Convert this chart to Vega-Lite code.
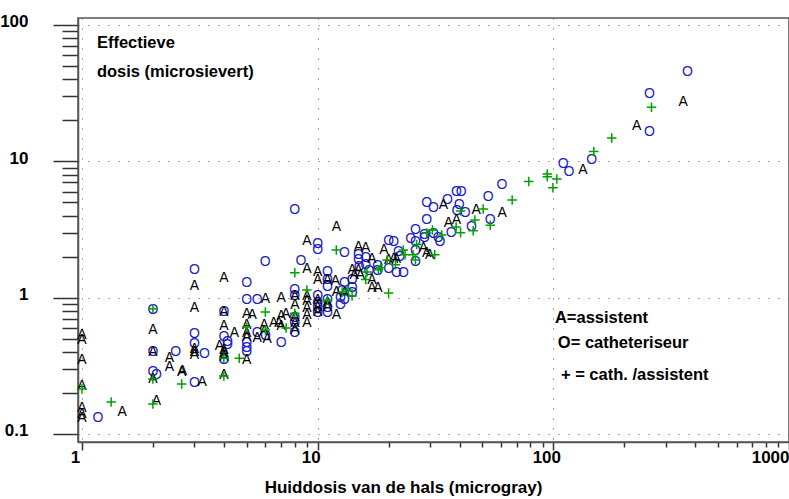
{
  "$schema": "https://vega.github.io/schema/vega-lite/v6.json",
  "width": 711,
  "height": 424,
  "autosize": "none",
  "padding": {"left": 78, "top": 18, "right": 0, "bottom": 57},
  "background": "white",
  "config": {"view": {"stroke": "#555555", "strokeWidth": 1.5}, "font": "Liberation Sans"},
  "datasets": {
    "points": [
      {"dose": 1.17, "eff": 0.131, "sym": "O"}, {"dose": 2, "eff": 0.81, "sym": "O"}, {"dose": 2, "eff": 0.40, "sym": "O"},
      {"dose": 2, "eff": 0.285, "sym": "O"}, {"dose": 2.07, "eff": 0.271, "sym": "O"}, {"dose": 2.5, "eff": 0.40, "sym": "O"},
      {"dose": 3, "eff": 1.60, "sym": "O"}, {"dose": 3, "eff": 0.54, "sym": "O"}, {"dose": 3, "eff": 0.46, "sym": "O"},
      {"dose": 3.31, "eff": 0.386, "sym": "O"}, {"dose": 3, "eff": 0.237, "sym": "O"}, {"dose": 4, "eff": 0.785, "sym": "O"},
      {"dose": 4, "eff": 0.514, "sym": "O"}, {"dose": 4.14, "eff": 0.47, "sym": "O"}, {"dose": 4.14, "eff": 0.45, "sym": "O"},
      {"dose": 4, "eff": 0.35, "sym": "O"}, {"dose": 5, "eff": 1.28, "sym": "O"}, {"dose": 5, "eff": 0.96, "sym": "O"},
      {"dose": 5.54, "eff": 0.96, "sym": "O"}, {"dose": 5, "eff": 0.465, "sym": "O"}, {"dose": 5, "eff": 0.427, "sym": "O"},
      {"dose": 5, "eff": 0.40, "sym": "O"}, {"dose": 5.99, "eff": 1.83, "sym": "O"}, {"dose": 5.54, "eff": 0.55, "sym": "O"},
      {"dose": 6, "eff": 0.52, "sym": "O"}, {"dose": 7, "eff": 0.465, "sym": "O"}, {"dose": 8, "eff": 4.4, "sym": "O"},
      {"dose": 8.5, "eff": 1.85, "sym": "O"}, {"dose": 8, "eff": 1.14, "sym": "O"}, {"dose": 8, "eff": 1.02, "sym": "O"},
      {"dose": 8, "eff": 0.71, "sym": "O"}, {"dose": 8, "eff": 0.65, "sym": "O"}, {"dose": 8, "eff": 0.55, "sym": "O"},
      {"dose": 10, "eff": 2.48, "sym": "O"}, {"dose": 10, "eff": 2.22, "sym": "O"}, {"dose": 10, "eff": 1.02, "sym": "O"},
      {"dose": 10, "eff": 0.91, "sym": "O"}, {"dose": 10, "eff": 0.84, "sym": "O"}, {"dose": 10, "eff": 0.77, "sym": "O"},
      {"dose": 11, "eff": 1.54, "sym": "O"}, {"dose": 11, "eff": 1.35, "sym": "O"}, {"dose": 11, "eff": 1.20, "sym": "O"},
      {"dose": 11, "eff": 0.96, "sym": "O"}, {"dose": 11, "eff": 0.84, "sym": "O"}, {"dose": 11, "eff": 0.77, "sym": "O"},
      {"dose": 12.5, "eff": 1.0, "sym": "O"}, {"dose": 12.5, "eff": 0.88, "sym": "O"}, {"dose": 13, "eff": 0.96, "sym": "O"},
      {"dose": 12.7, "eff": 1.11, "sym": "O"}, {"dose": 13, "eff": 2.13, "sym": "O"}, {"dose": 13, "eff": 1.28, "sym": "O"},
      {"dose": 14, "eff": 1.35, "sym": "O"}, {"dose": 14, "eff": 1.18, "sym": "O"}, {"dose": 14, "eff": 1.08, "sym": "O"},
      {"dose": 14.9, "eff": 2.06, "sym": "O"}, {"dose": 14.9, "eff": 1.89, "sym": "O"}, {"dose": 15, "eff": 1.68, "sym": "O"},
      {"dose": 16, "eff": 1.96, "sym": "O"}, {"dose": 16, "eff": 1.74, "sym": "O"}, {"dose": 16.5, "eff": 1.56, "sym": "O"},
      {"dose": 18, "eff": 1.70, "sym": "O"}, {"dose": 18, "eff": 1.56, "sym": "O"}, {"dose": 20, "eff": 2.6, "sym": "O"},
      {"dose": 21, "eff": 2.56, "sym": "O"}, {"dose": 20, "eff": 1.62, "sym": "O"}, {"dose": 21.6, "eff": 1.52, "sym": "O"},
      {"dose": 23.1, "eff": 1.52, "sym": "O"}, {"dose": 22, "eff": 2.17, "sym": "O"}, {"dose": 22.3, "eff": 1.98, "sym": "O"},
      {"dose": 24.8, "eff": 2.70, "sym": "O"}, {"dose": 26, "eff": 2.56, "sym": "O"}, {"dose": 26, "eff": 2.2, "sym": "O"},
      {"dose": 26, "eff": 1.83, "sym": "O"}, {"dose": 26, "eff": 3.14, "sym": "O"}, {"dose": 28.4, "eff": 2.88, "sym": "O"},
      {"dose": 28.4, "eff": 2.74, "sym": "O"}, {"dose": 31, "eff": 2.95, "sym": "O"}, {"dose": 32.5, "eff": 2.74, "sym": "O"},
      {"dose": 33, "eff": 2.56, "sym": "O"}, {"dose": 29, "eff": 4.94, "sym": "O"}, {"dose": 31, "eff": 4.55, "sym": "O"},
      {"dose": 29, "eff": 3.71, "sym": "O"}, {"dose": 35.5, "eff": 5.2, "sym": "O"}, {"dose": 38.8, "eff": 5.96, "sym": "O"},
      {"dose": 40.7, "eff": 5.96, "sym": "O"}, {"dose": 39.9, "eff": 4.78, "sym": "O"}, {"dose": 39, "eff": 4.32, "sym": "O"},
      {"dose": 42.3, "eff": 4.18, "sym": "O"}, {"dose": 36.9, "eff": 3.0, "sym": "O"}, {"dose": 44.9, "eff": 3.3, "sym": "O"},
      {"dose": 52.9, "eff": 5.47, "sym": "O"}, {"dose": 54, "eff": 3.69, "sym": "O"}, {"dose": 60.6, "eff": 6.7, "sym": "O"},
      {"dose": 110, "eff": 9.5, "sym": "O"}, {"dose": 116.5, "eff": 8.35, "sym": "O"}, {"dose": 145.6, "eff": 10.2, "sym": "O"},
      {"dose": 256, "eff": 16.4, "sym": "O"}, {"dose": 256, "eff": 31.2, "sym": "O"}, {"dose": 370.5, "eff": 45.2, "sym": "O"},

      {"dose": 1, "eff": 0.53, "sym": "A"}, {"dose": 1, "eff": 0.49, "sym": "A"}, {"dose": 1, "eff": 0.35, "sym": "A"},
      {"dose": 1, "eff": 0.225, "sym": "A"}, {"dose": 1, "eff": 0.155, "sym": "A"}, {"dose": 1, "eff": 0.14, "sym": "A"},
      {"dose": 1, "eff": 0.131, "sym": "A"}, {"dose": 1.48, "eff": 0.146, "sym": "A"},
      {"dose": 2, "eff": 0.58, "sym": "A"}, {"dose": 2, "eff": 0.40, "sym": "A"}, {"dose": 2, "eff": 0.255, "sym": "A"},
      {"dose": 2.07, "eff": 0.175, "sym": "A"}, {"dose": 2.35, "eff": 0.36, "sym": "A"}, {"dose": 2.35, "eff": 0.31, "sym": "A"},
      {"dose": 2.65, "eff": 0.285, "sym": "A"}, {"dose": 2.67, "eff": 0.29, "sym": "A"},
      {"dose": 3, "eff": 1.22, "sym": "A"}, {"dose": 3, "eff": 0.84, "sym": "A"}, {"dose": 3, "eff": 0.42, "sym": "A"},
      {"dose": 3, "eff": 0.40, "sym": "A"}, {"dose": 3, "eff": 0.38, "sym": "A"}, {"dose": 3.24, "eff": 0.24, "sym": "A"},
      {"dose": 4, "eff": 1.39, "sym": "A"}, {"dose": 4, "eff": 0.785, "sym": "A"}, {"dose": 4, "eff": 0.62, "sym": "A"},
      {"dose": 4.43, "eff": 0.55, "sym": "A"}, {"dose": 3.83, "eff": 0.44, "sym": "A"}, {"dose": 4, "eff": 0.413, "sym": "A"},
      {"dose": 4, "eff": 0.39, "sym": "A"}, {"dose": 4, "eff": 0.367, "sym": "A"}, {"dose": 4, "eff": 0.271, "sym": "A"},
      {"dose": 6, "eff": 0.97, "sym": "A"}, {"dose": 5, "eff": 0.76, "sym": "A"}, {"dose": 5.28, "eff": 0.746, "sym": "A"},
      {"dose": 5, "eff": 0.63, "sym": "A"}, {"dose": 5, "eff": 0.55, "sym": "A"}, {"dose": 5, "eff": 0.514, "sym": "A"},
      {"dose": 5, "eff": 0.35, "sym": "A"}, {"dose": 5.54, "eff": 0.51, "sym": "A"}, {"dose": 5.93, "eff": 0.63, "sym": "A"},
      {"dose": 5.93, "eff": 0.57, "sym": "A"}, {"dose": 6.1, "eff": 0.50, "sym": "A"}, {"dose": 6.5, "eff": 0.65, "sym": "A"},
      {"dose": 6.85, "eff": 0.65, "sym": "A"}, {"dose": 7, "eff": 0.62, "sym": "A"}, {"dose": 7, "eff": 0.99, "sym": "A"},
      {"dose": 7.33, "eff": 0.76, "sym": "A"}, {"dose": 7, "eff": 0.73, "sym": "A"},
      {"dose": 8, "eff": 1.02, "sym": "A"}, {"dose": 8, "eff": 0.88, "sym": "A"}, {"dose": 8, "eff": 0.72, "sym": "A"},
      {"dose": 8, "eff": 0.65, "sym": "A"}, {"dose": 8, "eff": 0.58, "sym": "A"},
      {"dose": 9, "eff": 2.6, "sym": "A"}, {"dose": 9, "eff": 1.63, "sym": "A"}, {"dose": 9, "eff": 1.02, "sym": "A"},
      {"dose": 9, "eff": 0.95, "sym": "A"}, {"dose": 9, "eff": 0.84, "sym": "A"}, {"dose": 9, "eff": 0.75, "sym": "A"},
      {"dose": 9, "eff": 0.65, "sym": "A"},
      {"dose": 10, "eff": 1.54, "sym": "A"}, {"dose": 10, "eff": 1.35, "sym": "A"}, {"dose": 10, "eff": 0.96, "sym": "A"},
      {"dose": 10, "eff": 0.86, "sym": "A"}, {"dose": 10, "eff": 0.79, "sym": "A"},
      {"dose": 11, "eff": 1.35, "sym": "A"}, {"dose": 11, "eff": 0.91, "sym": "A"}, {"dose": 11, "eff": 0.85, "sym": "A"},
      {"dose": 12, "eff": 3.3, "sym": "A"}, {"dose": 11.9, "eff": 1.32, "sym": "A"}, {"dose": 12, "eff": 1.10, "sym": "A"},
      {"dose": 12, "eff": 0.746, "sym": "A"}, {"dose": 13, "eff": 1.09, "sym": "A"},
      {"dose": 14, "eff": 1.60, "sym": "A"}, {"dose": 14.3, "eff": 1.47, "sym": "A"}, {"dose": 14.9, "eff": 1.60, "sym": "A"},
      {"dose": 15.2, "eff": 1.47, "sym": "A"}, {"dose": 14.9, "eff": 2.35, "sym": "A"}, {"dose": 16, "eff": 2.30, "sym": "A"},
      {"dose": 17, "eff": 1.93, "sym": "A"}, {"dose": 17, "eff": 1.35, "sym": "A"}, {"dose": 17, "eff": 1.18, "sym": "A"},
      {"dose": 18, "eff": 1.18, "sym": "A"}, {"dose": 19.1, "eff": 2.25, "sym": "A"},
      {"dose": 20, "eff": 1.89, "sym": "A"}, {"dose": 21, "eff": 1.91, "sym": "A"}, {"dose": 21.6, "eff": 1.91, "sym": "A"},
      {"dose": 28.1, "eff": 2.3, "sym": "A"}, {"dose": 29, "eff": 2.13, "sym": "A"}, {"dose": 29.9, "eff": 2.06, "sym": "A"},
      {"dose": 34.2, "eff": 4.78, "sym": "A"}, {"dose": 35.9, "eff": 3.53, "sym": "A"}, {"dose": 38.8, "eff": 3.71, "sym": "A"},
      {"dose": 47.1, "eff": 4.4, "sym": "A"}, {"dose": 60.6, "eff": 4.2, "sym": "A"}, {"dose": 133.4, "eff": 8.64, "sym": "A"},
      {"dose": 225.5, "eff": 18.2, "sym": "A"}, {"dose": 356, "eff": 27.2, "sym": "A"},

      {"dose": 1, "eff": 0.214, "sym": "+"}, {"dose": 1.33, "eff": 0.172, "sym": "+"}, {"dose": 2, "eff": 0.83, "sym": "+"},
      {"dose": 2, "eff": 0.253, "sym": "+"}, {"dose": 2, "eff": 0.166, "sym": "+"}, {"dose": 2.65, "eff": 0.233, "sym": "+"},
      {"dose": 4, "eff": 0.36, "sym": "+"}, {"dose": 4, "eff": 0.266, "sym": "+"}, {"dose": 4.65, "eff": 0.36, "sym": "+"},
      {"dose": 5, "eff": 0.61, "sym": "+"}, {"dose": 6, "eff": 0.785, "sym": "+"}, {"dose": 6, "eff": 0.58, "sym": "+"},
      {"dose": 7.35, "eff": 0.60, "sym": "+"}, {"dose": 8, "eff": 1.52, "sym": "+"}, {"dose": 8, "eff": 0.77, "sym": "+"},
      {"dose": 9, "eff": 1.14, "sym": "+"}, {"dose": 11, "eff": 0.96, "sym": "+"}, {"dose": 12, "eff": 2.24, "sym": "+"},
      {"dose": 12.7, "eff": 1.10, "sym": "+"}, {"dose": 13.5, "eff": 1.14, "sym": "+"}, {"dose": 14, "eff": 1.03, "sym": "+"},
      {"dose": 16.2, "eff": 1.54, "sym": "+"}, {"dose": 16, "eff": 1.36, "sym": "+"}, {"dose": 18.1, "eff": 1.60, "sym": "+"},
      {"dose": 18.5, "eff": 1.66, "sym": "+"}, {"dose": 20, "eff": 1.08, "sym": "+"}, {"dose": 19.7, "eff": 1.89, "sym": "+"},
      {"dose": 21.4, "eff": 1.74, "sym": "+"}, {"dose": 23.1, "eff": 2.24, "sym": "+"}, {"dose": 23.5, "eff": 2.06, "sym": "+"},
      {"dose": 26.3, "eff": 2.45, "sym": "+"}, {"dose": 25.4, "eff": 2.06, "sym": "+"}, {"dose": 26, "eff": 1.89, "sym": "+"},
      {"dose": 29, "eff": 2.98, "sym": "+"}, {"dose": 30.7, "eff": 3.14, "sym": "+"}, {"dose": 31.4, "eff": 2.06, "sym": "+"},
      {"dose": 33.6, "eff": 2.88, "sym": "+"}, {"dose": 38.7, "eff": 3.3, "sym": "+"}, {"dose": 40.4, "eff": 2.99, "sym": "+"},
      {"dose": 40.4, "eff": 4.33, "sym": "+"}, {"dose": 46.5, "eff": 3.71, "sym": "+"}, {"dose": 45.7, "eff": 3.1, "sym": "+"},
      {"dose": 50.4, "eff": 4.47, "sym": "+"}, {"dose": 54, "eff": 3.4, "sym": "+"}, {"dose": 66.9, "eff": 5.2, "sym": "+"},
      {"dose": 78.7, "eff": 7.1, "sym": "+"}, {"dose": 94.3, "eff": 8.07, "sym": "+"}, {"dose": 94.3, "eff": 7.7, "sym": "+"},
      {"dose": 103.5, "eff": 7.42, "sym": "+"}, {"dose": 99.6, "eff": 6.4, "sym": "+"}, {"dose": 148.5, "eff": 11.8, "sym": "+"},
      {"dose": 177, "eff": 14.8, "sym": "+"}, {"dose": 261, "eff": 24.95, "sym": "+"}
    ]
  },
  "layer": [
    {
      "data": {"name": "points"},
      "transform": [{"filter": "datum.sym != '+'"}],
      "mark": {"type": "text", "font": "Liberation Sans", "fontSize": 14, "baseline": "middle", "align": "center"},
      "encoding": {
        "x": {
          "field": "dose", "type": "quantitative",
          "scale": {"type": "log", "domain": [0.962, 1000], "nice": false},
          "axis": {
            "values": [1,2,3,4,5,6,7,8,9,10,20,30,40,50,60,70,80,90,100,200,300,400,500,600,700,800,900,1000],
            "labelExpr": "datum.value == 1 ? '1' : datum.value == 10 ? '10' : datum.value == 100 ? '100' : datum.value == 1000 ? '1000' : ''",
            "tickSize": {"condition": {"test": "datum.value == 1 || datum.value == 10 || datum.value == 100 || datum.value == 1000", "value": 8}, "value": 5},
            "labelAlign": {"condition": {"test": "datum.value == 1000", "value": "right"}, "value": "center"},
            "labelOffset": {"condition": {"test": "datum.value == 1000", "value": 0}, "value": -7},
            "labelPadding": -1,
            "labelBaseline": "top",
            "labelFont": "Liberation Sans", "labelFontSize": 17, "labelFontWeight": "bold", "labelColor": "#000000",
            "labelOverlap": false, "labelFlush": false, "labelBound": false,
            "tickColor": "#333333", "tickWidth": 1.5,
            "domainColor": "#555555", "domainWidth": 1.5,
            "grid": true, "gridColor": "#555555", "gridDash": [1, 9], "gridWidth": 1,
            "gridOpacity": {"condition": {"test": "datum.value == 1 || datum.value == 10 || datum.value == 100 || datum.value == 1000", "value": 1}, "value": 0},
            "title": "Huiddosis van de hals (microgray)",
            "titleFont": "Liberation Sans", "titleFontSize": 17, "titleFontWeight": "bold", "titleColor": "#000000",
            "titleX": 325, "titleY": 45, "titleAlign": "center", "titleBaseline": "middle", "titleAngle": 0
          }
        },
        "y": {
          "field": "eff", "type": "quantitative",
          "scale": {"type": "log", "domain": [0.08736, 112.5], "nice": false},
          "axis": {
            "values": [0.1,0.2,0.3,0.4,0.5,0.6,0.7,0.8,0.9,1,2,3,4,5,6,7,8,9,10,20,30,40,50,60,70,80,90,100],
            "labelExpr": "datum.value == 0.1 ? '0.1' : datum.value == 1 ? '1' : datum.value == 10 ? '10' : datum.value == 100 ? '100' : ''",
            "tickSize": {"condition": {"test": "datum.value == 0.1 || datum.value == 1 || datum.value == 10 || datum.value == 100", "value": 25}, "value": 16},
            "labelPadding": 25,
            "labelOffset": -3,
            "labelFont": "Liberation Sans", "labelFontSize": 17, "labelFontWeight": "bold", "labelColor": "#000000",
            "labelOverlap": false, "labelFlush": false, "labelBound": false,
            "tickColor": "#333333", "tickWidth": 1.5,
            "domainColor": "#555555", "domainWidth": 1.5,
            "grid": true, "gridColor": "#555555", "gridDash": [1, 9], "gridWidth": 1,
            "gridOpacity": {"condition": {"test": "datum.value == 0.1 || datum.value == 1 || datum.value == 10 || datum.value == 100", "value": 1}, "value": 0},
            "title": null
          }
        },
        "text": {"field": "sym", "type": "nominal"},
        "color": {
          "field": "sym", "type": "nominal",
          "scale": {"domain": ["A", "O", "+"], "range": ["#000000", "#1c1cc4", "#00a000"]},
          "legend": null
        }
      }
    },
    {
      "data": {"name": "points"},
      "transform": [{"filter": "datum.sym == '+'"}],
      "mark": {"type": "point", "shape": "M-1,0L1,0M0,-1L0,1", "filled": false, "size": 90, "strokeWidth": 1.5, "opacity": 1},
      "encoding": {
        "x": {
          "field": "dose", "type": "quantitative",
          "scale": {"type": "log", "domain": [0.962, 1000], "nice": false},
          "axis": {
            "values": [1,2,3,4,5,6,7,8,9,10,20,30,40,50,60,70,80,90,100,200,300,400,500,600,700,800,900,1000],
            "labelExpr": "datum.value == 1 ? '1' : datum.value == 10 ? '10' : datum.value == 100 ? '100' : datum.value == 1000 ? '1000' : ''",
            "tickSize": {"condition": {"test": "datum.value == 1 || datum.value == 10 || datum.value == 100 || datum.value == 1000", "value": 8}, "value": 5},
            "labelAlign": {"condition": {"test": "datum.value == 1000", "value": "right"}, "value": "center"},
            "labelOffset": {"condition": {"test": "datum.value == 1000", "value": 0}, "value": -7},
            "labelPadding": -1,
            "labelBaseline": "top",
            "labelFont": "Liberation Sans", "labelFontSize": 17, "labelFontWeight": "bold", "labelColor": "#000000",
            "labelOverlap": false, "labelFlush": false, "labelBound": false,
            "tickColor": "#333333", "tickWidth": 1.5,
            "domainColor": "#555555", "domainWidth": 1.5,
            "grid": true, "gridColor": "#555555", "gridDash": [1, 9], "gridWidth": 1,
            "gridOpacity": {"condition": {"test": "datum.value == 1 || datum.value == 10 || datum.value == 100 || datum.value == 1000", "value": 1}, "value": 0},
            "title": "Huiddosis van de hals (microgray)",
            "titleFont": "Liberation Sans", "titleFontSize": 17, "titleFontWeight": "bold", "titleColor": "#000000",
            "titleX": 325, "titleY": 45, "titleAlign": "center", "titleBaseline": "middle", "titleAngle": 0
          }
        },
        "y": {
          "field": "eff", "type": "quantitative",
          "scale": {"type": "log", "domain": [0.08736, 112.5], "nice": false},
          "axis": {
            "values": [0.1,0.2,0.3,0.4,0.5,0.6,0.7,0.8,0.9,1,2,3,4,5,6,7,8,9,10,20,30,40,50,60,70,80,90,100],
            "labelExpr": "datum.value == 0.1 ? '0.1' : datum.value == 1 ? '1' : datum.value == 10 ? '10' : datum.value == 100 ? '100' : ''",
            "tickSize": {"condition": {"test": "datum.value == 0.1 || datum.value == 1 || datum.value == 10 || datum.value == 100", "value": 25}, "value": 16},
            "labelPadding": 25,
            "labelOffset": -3,
            "labelFont": "Liberation Sans", "labelFontSize": 17, "labelFontWeight": "bold", "labelColor": "#000000",
            "labelOverlap": false, "labelFlush": false, "labelBound": false,
            "tickColor": "#333333", "tickWidth": 1.5,
            "domainColor": "#555555", "domainWidth": 1.5,
            "grid": true, "gridColor": "#555555", "gridDash": [1, 9], "gridWidth": 1,
            "gridOpacity": {"condition": {"test": "datum.value == 0.1 || datum.value == 1 || datum.value == 10 || datum.value == 100", "value": 1}, "value": 0},
            "title": null
          }
        },
        "color": {
          "field": "sym", "type": "nominal",
          "scale": {"domain": ["A", "O", "+"], "range": ["#000000", "#1c1cc4", "#00a000"]},
          "legend": null
        }
      }
    },
    {
      "data": {"values": [{}]},
      "mark": {"type": "text", "font": "Liberation Sans", "fontSize": 16.5, "fontWeight": "bold", "align": "left", "baseline": "middle", "color": "#000000"},
      "encoding": {"x": {"datum": 1.157}, "y": {"datum": 73.8}, "text": {"value": "Effectieve"}}
    },
    {
      "data": {"values": [{}]},
      "mark": {"type": "text", "font": "Liberation Sans", "fontSize": 16.5, "fontWeight": "bold", "align": "left", "baseline": "middle", "color": "#000000"},
      "encoding": {"x": {"datum": 1.157}, "y": {"datum": 45.2}, "text": {"value": "dosis  (microsievert)"}}
    },
    {
      "data": {"values": [{}]},
      "mark": {"type": "text", "font": "Liberation Sans", "fontSize": 16.5, "fontWeight": "bold", "align": "left", "baseline": "middle", "color": "#000000"},
      "encoding": {"x": {"datum": 101.6}, "y": {"datum": 0.709}, "text": {"value": "A=assistent"}}
    },
    {
      "data": {"values": [{}]},
      "mark": {"type": "text", "font": "Liberation Sans", "fontSize": 16.5, "fontWeight": "bold", "align": "left", "baseline": "middle", "color": "#000000"},
      "encoding": {"x": {"datum": 104.5}, "y": {"datum": 0.465}, "text": {"value": "O= catheteriseur"}}
    },
    {
      "data": {"values": [{}]},
      "mark": {"type": "text", "font": "Liberation Sans", "fontSize": 16.5, "fontWeight": "bold", "align": "left", "baseline": "middle", "color": "#000000"},
      "encoding": {"x": {"datum": 107.7}, "y": {"datum": 0.271}, "text": {"value": "+ = cath. /assistent"}}
    }
  ]
}
